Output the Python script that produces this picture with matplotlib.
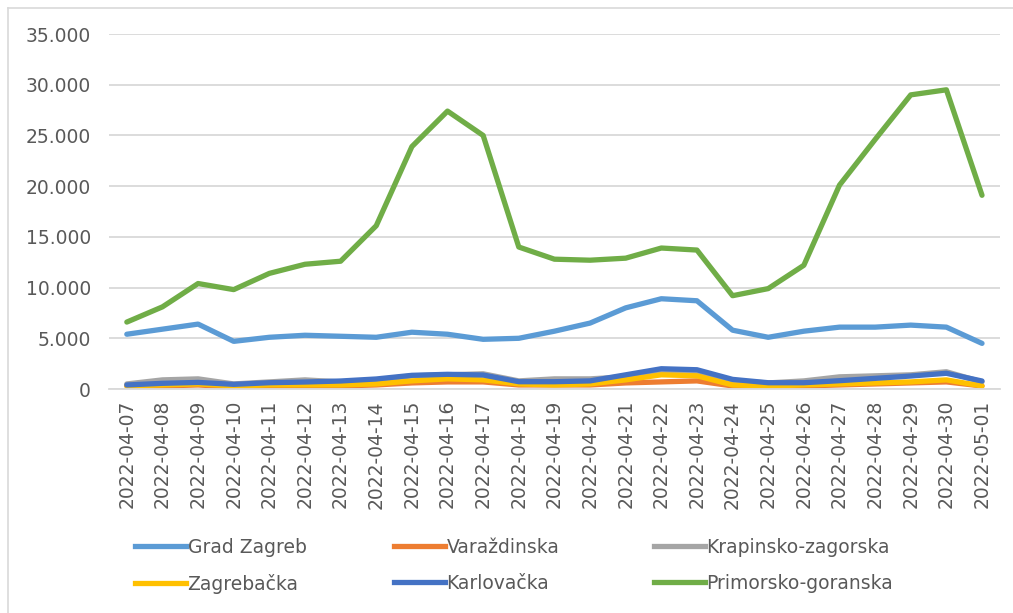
import numpy as np
import matplotlib
matplotlib.use('Agg')
import matplotlib.pyplot as plt
from matplotlib.lines import Line2D
from matplotlib.ticker import FuncFormatter

dates = ['2022-04-07', '2022-04-08', '2022-04-09', '2022-04-10', '2022-04-11',
         '2022-04-12', '2022-04-13', '2022-04-14', '2022-04-15', '2022-04-16',
         '2022-04-17', '2022-04-18', '2022-04-19', '2022-04-20', '2022-04-21',
         '2022-04-22', '2022-04-23', '2022-04-24', '2022-04-25', '2022-04-26',
         '2022-04-27', '2022-04-28', '2022-04-29', '2022-04-30', '2022-05-01']

grad_zagreb = [5400, 5900, 6400, 4700, 5100, 5300, 5200, 5100, 5600, 5400,
               4900, 5000, 5700, 6500, 8000, 8900, 8700, 5800, 5100, 5700,
               6100, 6100, 6300, 6100, 4500]
varazdinska = [300, 300, 400, 200, 300, 300, 300, 400, 600, 700,
               700, 400, 400, 400, 600, 700, 800, 300, 300, 300,
               400, 500, 600, 700, 300]
krapinsko = [500, 900, 1000, 500, 700, 900, 700, 900, 1300, 1400,
             1500, 800, 1000, 1000, 1200, 1800, 1700, 800, 600, 800,
             1200, 1300, 1400, 1700, 700]
zagrebacka = [300, 400, 500, 300, 400, 400, 400, 500, 800, 1000,
              900, 500, 400, 500, 900, 1400, 1300, 400, 300, 400,
              500, 600, 700, 900, 300]
karlovacka = [400, 560, 650, 460, 620, 690, 790, 990, 1350, 1450,
              1380, 720, 720, 800, 1400, 2000, 1900, 950, 620, 620,
              820, 1050, 1280, 1550, 790]
primorsko = [6600, 8100, 10400, 9800, 11400, 12300, 12600, 16100, 23900, 27400,
             25000, 14000, 12800, 12700, 12900, 13900, 13700, 9200, 9900, 12200,
             20100, 24600, 29000, 29500, 19100]

names = ['Grad Zagreb', 'Varaždinska', 'Krapinsko-zagorska',
         'Zagrebačka', 'Karlovačka', 'Primorsko-goranska']
series = [grad_zagreb, varazdinska, krapinsko, zagrebacka, karlovacka, primorsko]
colors = ['#5B9BD5', '#ED7D31', '#A5A5A5', '#FFC000', '#4472C4', '#70AD47']

txt = '#595959'
plt.rcParams['font.family'] = 'DejaVu Sans'

fig = plt.figure(figsize=(10.13, 6.13), dpi=100)
ax = fig.add_axes([0.1076, 0.3654, 0.8794, 0.5791])

x = np.arange(len(dates))
for vals, col in zip(series, colors):
    ax.plot(x, vals, color=col, lw=3.8, solid_capstyle='round', solid_joinstyle='round')

ax.set_xlim(-0.5, len(dates) - 0.5)
ax.set_ylim(0, 35000)
ax.set_yticks(np.arange(0, 35001, 5000))
ax.yaxis.set_major_formatter(FuncFormatter(lambda v, p: f'{int(v):,}'.replace(',', '.')))
ax.set_xticks(x)
ax.set_xticklabels(dates, rotation=90)
ax.tick_params(axis='both', length=0, colors=txt, labelsize=13.5)
ax.tick_params(axis='y', pad=13, labelsize=13.5)
ax.tick_params(axis='x', pad=8)
ax.grid(axis='y', color='#D9D9D9', lw=1.3)
ax.set_axisbelow(True)
for s in ['top', 'right', 'left']:
    ax.spines[s].set_visible(False)
ax.spines['bottom'].set_color('#D9D9D9')
ax.spines['bottom'].set_linewidth(1.3)

# chart border
fig.add_artist(Line2D([8 / 1013, 8 / 1013], [0, 1 - 8 / 613], transform=fig.transFigure,
                      color='#D9D9D9', lw=1.2))
fig.add_artist(Line2D([8 / 1013, 1], [1 - 8 / 613, 1 - 8 / 613], transform=fig.transFigure,
                      color='#D9D9D9', lw=1.2))

# legend, three columns of equal width
col_x = [135, 394, 654]
for c in range(3):
    idx = [c, c + 3]
    handles = [Line2D([], [], color=colors[i], lw=3.8) for i in idx]
    labels = [names[i] for i in idx]
    fig.legend(handles, labels, loc='upper left',
               bbox_to_anchor=(col_x[c] / 1013, 1 - 538 / 613),
               frameon=False, fontsize=13.5, labelcolor=txt,
               handlelength=2.7, handletextpad=0.1, labelspacing=0.9,
               borderaxespad=0, borderpad=0)

fig.savefig('out.png', dpi=100)
